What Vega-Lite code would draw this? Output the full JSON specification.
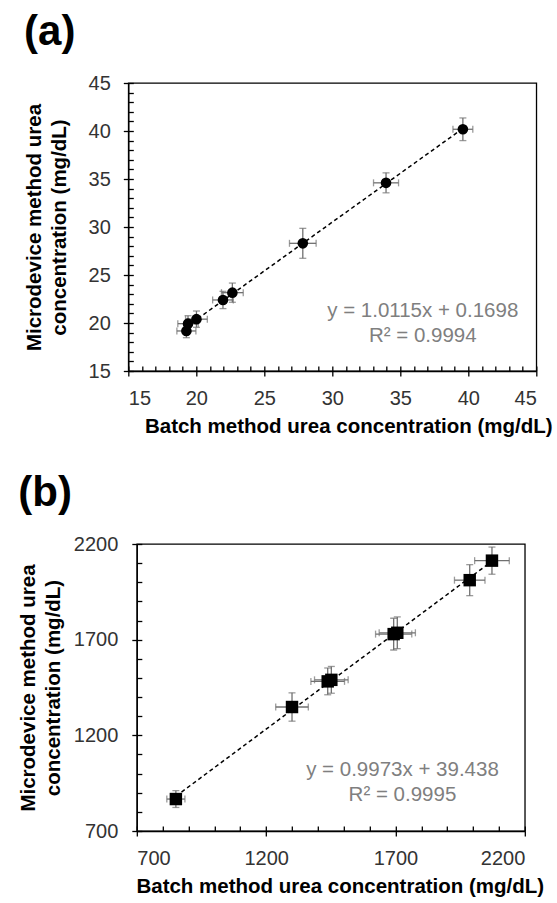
{
  "$schema": "https://vega.github.io/schema/vega-lite/v6.json",
  "padding": {"left": 17, "top": 10, "right": 0, "bottom": 0},
  "background": "white",
  "config": {
    "font": "Liberation Sans",
    "view": {"stroke": "#000000", "strokeWidth": 1.3},
    "axis": {"grid": false, "domainColor": "#000000", "domainWidth": 1.3, "tickColor": "#000000", "tickWidth": 1.3, "labelColor": "#333333", "labelFont": "Liberation Sans", "labelFontSize": 20, "titleFont": "Liberation Sans", "titleFontSize": 20.5, "titleFontWeight": "bold", "titleColor": "#000000"}
  },
  "datasets": {
    "a": [
      {"x": 39.6, "xlo": 38.87, "xhi": 40.33, "y": 40.18, "ylo": 39.0, "yhi": 41.36},
      {"x": 33.95, "xlo": 33.03, "xhi": 34.87, "y": 34.6, "ylo": 33.56, "yhi": 35.64},
      {"x": 27.83, "xlo": 26.85, "xhi": 28.81, "y": 28.3, "ylo": 26.74, "yhi": 29.86},
      {"x": 22.65, "xlo": 21.85, "xhi": 23.45, "y": 23.16, "ylo": 22.16, "yhi": 24.16},
      {"x": 21.96, "xlo": 21.2, "xhi": 22.72, "y": 22.4, "ylo": 21.5, "yhi": 23.3},
      {"x": 20.01, "xlo": 19.21, "xhi": 20.81, "y": 20.4, "ylo": 19.55, "yhi": 21.25},
      {"x": 19.39, "xlo": 18.64, "xhi": 20.14, "y": 19.93, "ylo": 19.1, "yhi": 20.76},
      {"x": 19.27, "xlo": 18.57, "xhi": 19.97, "y": 19.17, "ylo": 18.47, "yhi": 19.87}
    ],
    "b": [
      {"x": 851, "xlo": 816, "xhi": 886, "y": 867, "ylo": 823, "yhi": 911},
      {"x": 1300, "xlo": 1237, "xhi": 1363, "y": 1348, "ylo": 1274, "yhi": 1422},
      {"x": 1438, "xlo": 1373, "xhi": 1503, "y": 1482, "ylo": 1412, "yhi": 1552},
      {"x": 1452, "xlo": 1387, "xhi": 1517, "y": 1490, "ylo": 1420, "yhi": 1560},
      {"x": 1693, "xlo": 1623, "xhi": 1763, "y": 1729, "ylo": 1646, "yhi": 1812},
      {"x": 1707, "xlo": 1637, "xhi": 1777, "y": 1736, "ylo": 1653, "yhi": 1819},
      {"x": 1987, "xlo": 1928, "xhi": 2046, "y": 2011, "ylo": 1930, "yhi": 2092},
      {"x": 2073, "xlo": 2006, "xhi": 2140, "y": 2113, "ylo": 2042, "yhi": 2184}
    ],
    "eqA": [{"x": 36.65, "y": 21.25, "label": "y = 1.0115x + 0.1698\nR² = 0.9994"}],
    "eqB": [{"x": 1727, "y": 1017, "label": "y = 0.9973x + 39.438\nR² = 0.9995"}]
  },
  "columns": 1,
  "center": true,
  "spacing": 33,
  "concat": [
    {
      "title": {"text": "(a)", "anchor": "start", "frame": "bounds", "fontSize": 42, "fontWeight": "bold", "baseline": "top", "offset": 19, "color": "#000000", "font": "Liberation Sans"},
      "width": 408,
      "height": 288,
      "data": {"name": "a"},
      "resolve": {"axis": {"x": "independent", "y": "independent"}},
      "layer": [
        {
          "transform": [{"regression": "y", "on": "x"}],
          "mark": {"type": "line", "color": "#000000", "strokeDash": [4, 3], "strokeWidth": 1.5},
          "encoding": {
            "x": {"field": "x", "type": "quantitative", "scale": {"domain": [15, 45], "nice": false, "zero": false},
              "axis": {"orient": "bottom", "values": [15, 20, 25, 30, 35, 40, 45], "tickSize": 5, "labelPadding": 12, "titlePadding": 8, "title": "Batch method  urea concentration (mg/dL)", "titleX": 220, "titleAlign": "center"}},
            "y": {"field": "y", "type": "quantitative", "scale": {"domain": [15, 45], "nice": false, "zero": false},
              "axis": {"orient": "left", "values": [15, 20, 25, 30, 35, 40, 45], "tickSize": 5, "labelPadding": 13, "titlePadding": 19, "titleLineHeight": 25, "title": ["Microdevice method urea", "concentration (mg/dL)"]}}
          }
        },
        {
          "mark": {"type": "rule", "color": "#707070", "strokeWidth": 1.3},
          "encoding": {
            "x": {"field": "xlo", "type": "quantitative", "scale": {"domain": [15, 45], "nice": false, "zero": false},
              "axis": {"orient": "bottom", "offset": -5, "values": [15,16,17,18,19,20,21,22,23,24,25,26,27,28,29,30,31,32,33,34,35,36,37,38,39,40,41,42,43,44,45], "tickSize": 5, "labels": false, "domain": false, "title": null}},
            "x2": {"field": "xhi"},
            "y": {"field": "y", "type": "quantitative", "scale": {"domain": [15, 45], "nice": false, "zero": false}, "axis": null}
          }
        },
        {
          "mark": {"type": "rule", "color": "#707070", "strokeWidth": 1.3},
          "encoding": {
            "x": {"field": "x", "type": "quantitative", "scale": {"domain": [15, 45], "nice": false, "zero": false}, "axis": null},
            "y": {"field": "ylo", "type": "quantitative", "scale": {"domain": [15, 45], "nice": false, "zero": false},
              "axis": {"orient": "left", "offset": -5, "values": [15,16,17,18,19,20,21,22,23,24,25,26,27,28,29,30,31,32,33,34,35,36,37,38,39,40,41,42,43,44,45], "tickSize": 5, "labels": false, "domain": false, "title": null}},
            "y2": {"field": "yhi"}
          }
        },
        {
          "transform": [{"fold": ["ylo", "yhi"], "as": ["k", "yc"]}],
          "mark": {"type": "tick", "orient": "horizontal", "color": "#707070", "size": 7, "thickness": 1.3},
          "encoding": {
            "x": {"field": "x", "type": "quantitative", "scale": {"domain": [15, 45], "nice": false, "zero": false}, "axis": null},
            "y": {"field": "yc", "type": "quantitative", "scale": {"domain": [15, 45], "nice": false, "zero": false}, "axis": null}
          }
        },
        {
          "transform": [{"fold": ["xlo", "xhi"], "as": ["k", "xc"]}],
          "mark": {"type": "tick", "orient": "vertical", "color": "#707070", "size": 7, "thickness": 1.3},
          "encoding": {
            "x": {"field": "xc", "type": "quantitative", "scale": {"domain": [15, 45], "nice": false, "zero": false}, "axis": null},
            "y": {"field": "y", "type": "quantitative", "scale": {"domain": [15, 45], "nice": false, "zero": false}, "axis": null}
          }
        },
        {
          "mark": {"type": "point", "shape": "circle", "filled": true, "size": 113, "color": "#000000", "opacity": 1},
          "encoding": {
            "x": {"field": "x", "type": "quantitative", "scale": {"domain": [15, 45], "nice": false, "zero": false}, "axis": null},
            "y": {"field": "y", "type": "quantitative", "scale": {"domain": [15, 45], "nice": false, "zero": false}, "axis": null}
          }
        },
        {
          "data": {"name": "eqA"},
          "mark": {"type": "text", "lineBreak": "\n", "fontSize": 20.5, "color": "#7f7f7f", "align": "center", "baseline": "middle", "lineHeight": 25, "font": "Liberation Sans"},
          "encoding": {
            "x": {"field": "x", "type": "quantitative", "scale": {"domain": [15, 45], "nice": false, "zero": false}, "axis": null},
            "y": {"field": "y", "type": "quantitative", "scale": {"domain": [15, 45], "nice": false, "zero": false}, "axis": null},
            "text": {"field": "label", "type": "nominal"}
          }
        }
      ]
    },
    {
      "title": {"text": "(b)", "anchor": "start", "frame": "bounds", "fontSize": 42, "fontWeight": "bold", "baseline": "top", "offset": 19, "color": "#000000", "font": "Liberation Sans"},
      "width": 388,
      "height": 287,
      "data": {"name": "b"},
      "resolve": {"axis": {"x": "independent", "y": "independent"}},
      "layer": [
        {
          "transform": [{"regression": "y", "on": "x"}],
          "mark": {"type": "line", "color": "#000000", "strokeDash": [4, 3], "strokeWidth": 1.5},
          "encoding": {
            "x": {"field": "x", "type": "quantitative", "scale": {"domain": [700, 2200], "nice": false, "zero": false},
              "axis": {"orient": "bottom", "values": [700, 1200, 1700, 2200], "format": "d", "tickSize": 5, "labelPadding": 12, "titlePadding": 8, "title": "Batch method  urea concentration (mg/dL)", "titleX": 203, "titleAlign": "center"}},
            "y": {"field": "y", "type": "quantitative", "scale": {"domain": [700, 2200], "nice": false, "zero": false},
              "axis": {"orient": "left", "values": [700, 1200, 1700, 2200], "format": "d", "tickSize": 5, "labelPadding": 14, "titlePadding": 10, "titleLineHeight": 25, "title": ["Microdevice method urea", "concentration (mg/dL)"]}}
          }
        },
        {
          "mark": {"type": "rule", "color": "#707070", "strokeWidth": 1.3},
          "encoding": {
            "x": {"field": "xlo", "type": "quantitative", "scale": {"domain": [700, 2200], "nice": false, "zero": false},
              "axis": {"orient": "bottom", "offset": -5, "values": [700,800,900,1000,1100,1200,1300,1400,1500,1600,1700,1800,1900,2000,2100,2200], "tickSize": 5, "labels": false, "domain": false, "title": null}},
            "x2": {"field": "xhi"},
            "y": {"field": "y", "type": "quantitative", "scale": {"domain": [700, 2200], "nice": false, "zero": false}, "axis": null}
          }
        },
        {
          "mark": {"type": "rule", "color": "#707070", "strokeWidth": 1.3},
          "encoding": {
            "x": {"field": "x", "type": "quantitative", "scale": {"domain": [700, 2200], "nice": false, "zero": false}, "axis": null},
            "y": {"field": "ylo", "type": "quantitative", "scale": {"domain": [700, 2200], "nice": false, "zero": false},
              "axis": {"orient": "left", "offset": -5, "values": [700,800,900,1000,1100,1200,1300,1400,1500,1600,1700,1800,1900,2000,2100,2200], "tickSize": 5, "labels": false, "domain": false, "title": null}},
            "y2": {"field": "yhi"}
          }
        },
        {
          "transform": [{"fold": ["ylo", "yhi"], "as": ["k", "yc"]}],
          "mark": {"type": "tick", "orient": "horizontal", "color": "#707070", "size": 7, "thickness": 1.3},
          "encoding": {
            "x": {"field": "x", "type": "quantitative", "scale": {"domain": [700, 2200], "nice": false, "zero": false}, "axis": null},
            "y": {"field": "yc", "type": "quantitative", "scale": {"domain": [700, 2200], "nice": false, "zero": false}, "axis": null}
          }
        },
        {
          "transform": [{"fold": ["xlo", "xhi"], "as": ["k", "xc"]}],
          "mark": {"type": "tick", "orient": "vertical", "color": "#707070", "size": 7, "thickness": 1.3},
          "encoding": {
            "x": {"field": "xc", "type": "quantitative", "scale": {"domain": [700, 2200], "nice": false, "zero": false}, "axis": null},
            "y": {"field": "y", "type": "quantitative", "scale": {"domain": [700, 2200], "nice": false, "zero": false}, "axis": null}
          }
        },
        {
          "mark": {"type": "point", "shape": "square", "filled": true, "size": 155, "color": "#000000", "opacity": 1},
          "encoding": {
            "x": {"field": "x", "type": "quantitative", "scale": {"domain": [700, 2200], "nice": false, "zero": false}, "axis": null},
            "y": {"field": "y", "type": "quantitative", "scale": {"domain": [700, 2200], "nice": false, "zero": false}, "axis": null}
          }
        },
        {
          "data": {"name": "eqB"},
          "mark": {"type": "text", "lineBreak": "\n", "fontSize": 20.5, "color": "#7f7f7f", "align": "center", "baseline": "middle", "lineHeight": 25, "font": "Liberation Sans"},
          "encoding": {
            "x": {"field": "x", "type": "quantitative", "scale": {"domain": [700, 2200], "nice": false, "zero": false}, "axis": null},
            "y": {"field": "y", "type": "quantitative", "scale": {"domain": [700, 2200], "nice": false, "zero": false}, "axis": null},
            "text": {"field": "label", "type": "nominal"}
          }
        }
      ]
    }
  ]
}
